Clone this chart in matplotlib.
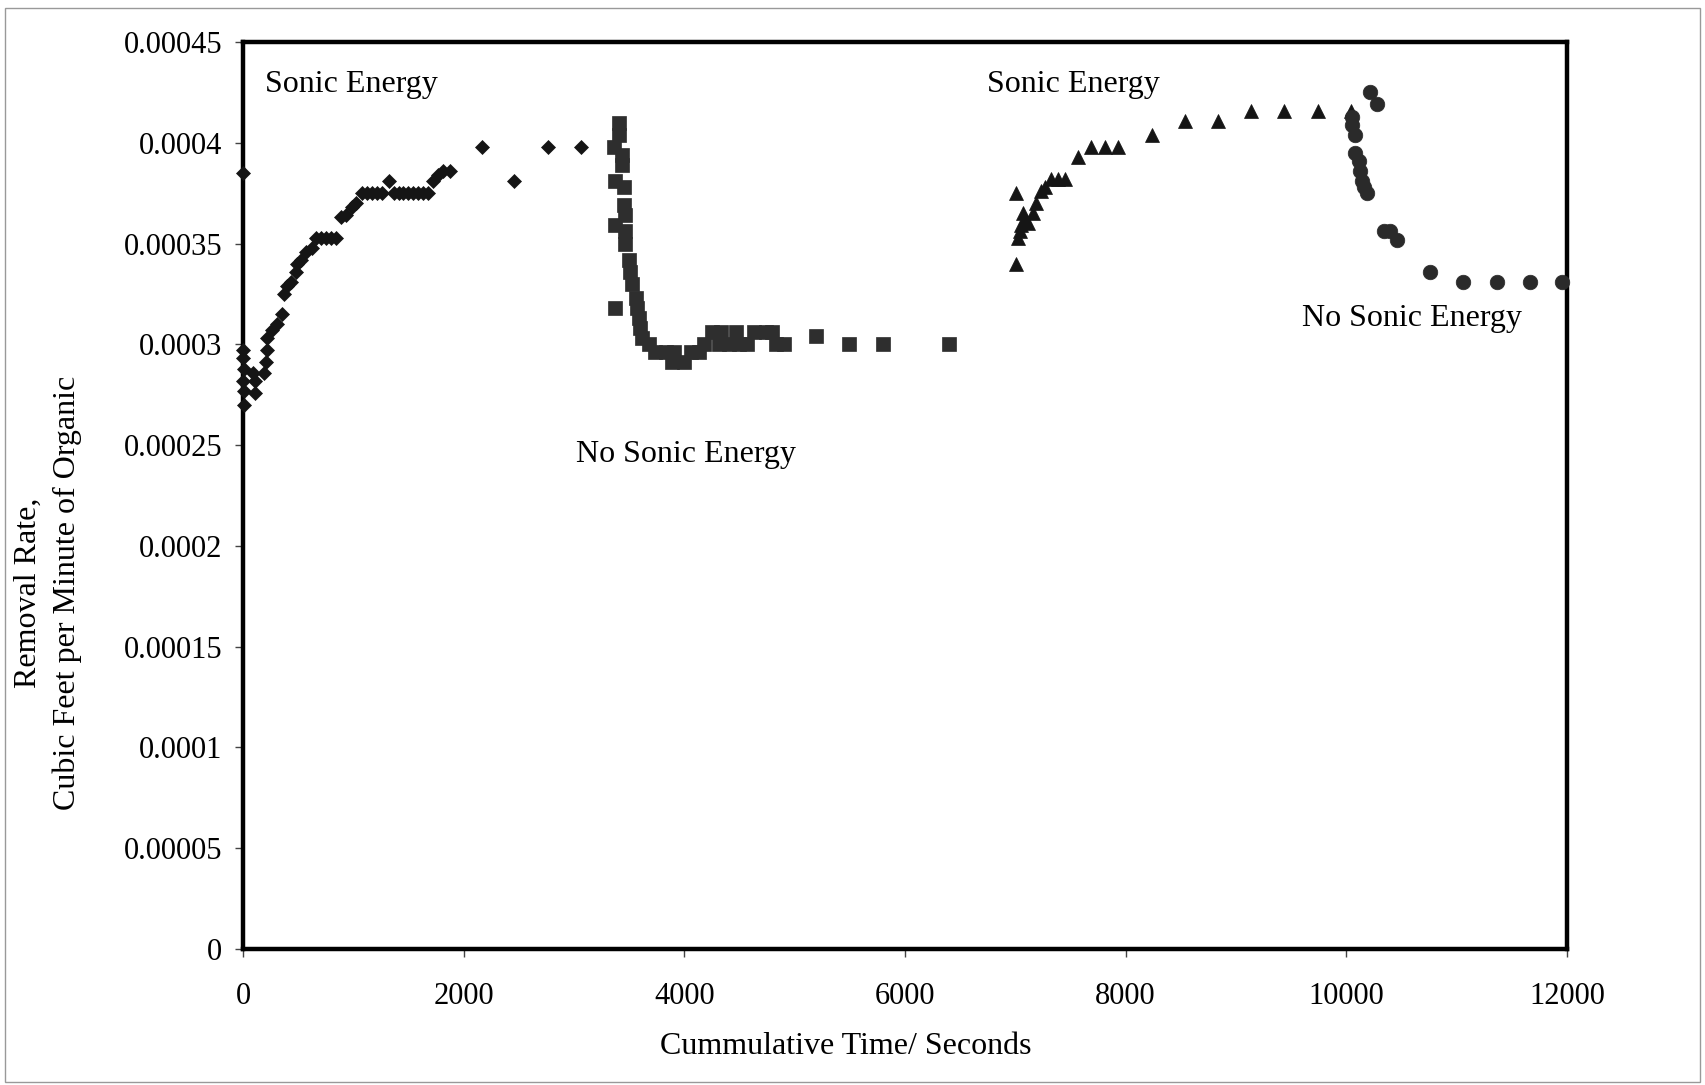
import matplotlib
matplotlib.use("Agg")
import matplotlib.pyplot as plt
from matplotlib.patches import Rectangle

plt.rcParams['font.family'] = ['Liberation Serif', 'DejaVu Serif']

# sonic energy on, first run (diamonds)
sonic1_x = [0, 0, 0, 5, 0, 10, 10, 90, 110, 110, 191, 206, 221, 221, 266, 312, 357,
            372, 403, 433, 479, 494, 524, 570, 630, 666, 711, 757, 802, 847, 893, 938,
            984, 1029, 1075, 1120, 1166, 1211, 1257, 1320, 1365, 1410, 1455, 1500, 1545,
            1590, 1635, 1680, 1726, 1771, 1817, 1877, 2165, 2461, 2764, 3064]
sonic1_y = [0.000385, 0.000297, 0.000293, 0.000288, 0.000282, 0.000277, 0.00027,
            0.000286, 0.000282, 0.000276, 0.000286, 0.000291, 0.000297, 0.000303,
            0.000307, 0.00031, 0.000315, 0.000325, 0.000329, 0.000331, 0.000336,
            0.00034, 0.000342, 0.000346, 0.000348, 0.000353, 0.000353, 0.000353,
            0.000353, 0.000353, 0.000363, 0.000364, 0.000368, 0.00037, 0.000375,
            0.000375, 0.000375, 0.000375, 0.000375, 0.000381, 0.000375, 0.000375,
            0.000375, 0.000375, 0.000375, 0.000375, 0.000375, 0.000375, 0.000381,
            0.000384, 0.000386, 0.000386, 0.000398, 0.000381, 0.000398, 0.000398]

# no sonic energy, first run (squares)
nosonic1_x = [3361, 3370, 3376, 3376, 3406, 3406, 3436, 3436, 3452, 3452, 3467, 3467,
              3467, 3497, 3512, 3527, 3558, 3573, 3588, 3603, 3618, 3679, 3739, 3830,
              3906, 3891, 3997, 4057, 4133, 4178, 4254, 4330, 4315, 4405, 4466, 4496,
              4572, 4632, 4738, 4799, 4829, 4905, 5193, 5495, 5798, 6397]
nosonic1_y = [0.000398, 0.000318, 0.000381, 0.000359, 0.00041, 0.000404, 0.000394,
              0.000389, 0.000378, 0.000369, 0.000364, 0.000356, 0.00035, 0.000342,
              0.000336, 0.00033, 0.000323, 0.000318, 0.000313, 0.000308, 0.000303,
              0.0003, 0.000296, 0.000296, 0.000296, 0.000291, 0.000291, 0.000296,
              0.000296, 0.0003, 0.000306, 0.000306, 0.0003, 0.0003, 0.000306, 0.0003,
              0.0003, 0.000306, 0.000306, 0.000306, 0.0003, 0.0003, 0.000304, 0.0003,
              0.0003, 0.0003]

# sonic energy on, second run (triangles)
sonic2_x = [7009, 7009, 7024, 7039, 7054, 7069, 7084, 7115, 7160, 7191, 7236, 7266,
            7327, 7387, 7448, 7569, 7690, 7811, 7932, 8235, 8538, 8841, 9135, 9437,
            9740, 10043]
sonic2_y = [0.00034, 0.000375, 0.000353, 0.000356, 0.000359, 0.000365, 0.000362,
            0.00036, 0.000365, 0.00037, 0.000376, 0.000378, 0.000382, 0.000382,
            0.000382, 0.000393, 0.000398, 0.000398, 0.000398, 0.000404, 0.000411,
            0.000411, 0.000416, 0.000416, 0.000416, 0.000416]

# no sonic energy, second run (circles)
nosonic2_x = [10052, 10052, 10082, 10082, 10112, 10128, 10143, 10158, 10188, 10218,
              10279, 10340, 10400, 10461, 10763, 11060, 11363, 11666, 11960]
nosonic2_y = [0.000413, 0.000409, 0.000404, 0.000395, 0.000391, 0.000386, 0.000381,
              0.000378, 0.000375, 0.000425, 0.000419, 0.000356, 0.000356, 0.000352,
              0.000336, 0.000331, 0.000331, 0.000331, 0.000331]

y_ticks = [0, 0.00005, 0.0001, 0.00015, 0.0002, 0.00025, 0.0003, 0.00035, 0.0004, 0.00045]
y_tick_labels = ['0', '0.00005', '0.0001', '0.00015', '0.0002', '0.00025', '0.0003',
                 '0.00035', '0.0004', '0.00045']
x_ticks = [0, 2000, 4000, 6000, 8000, 10000, 12000]

fig = plt.figure(figsize=(17.05, 10.85), dpi=100)
ax = fig.add_axes([0.1425, 0.1253, 0.7765, 0.836])

ax.plot(sonic1_x, sonic1_y, 'D', color='#151515', ms=7.3, mew=0.5, clip_on=False, zorder=3)
ax.plot(nosonic1_x, nosonic1_y, 's', color='#2e2e2e', ms=10.5, mew=0.5, clip_on=False, zorder=3)
ax.plot(sonic2_x, sonic2_y, '^', color='#151515', ms=9.5, mew=0.5, clip_on=False, zorder=3)
ax.plot(nosonic2_x, nosonic2_y, 'o', color='#2a2a2a', ms=10.5, mew=0.5, clip_on=False, zorder=3)

ax.set_xlim(0, 12000)
ax.set_ylim(0, 0.00045)
ax.set_xticks(x_ticks)
ax.set_xticklabels([str(t) for t in x_ticks])
ax.set_yticks(y_ticks)
ax.set_yticklabels(y_tick_labels)

for side in ax.spines.values():
    side.set_linewidth(3.2)
    side.set_color('black')
ax.tick_params(axis='both', direction='out', length=6, width=1, labelsize=22, color='#444444')
ax.tick_params(axis='x', pad=18)
ax.tick_params(axis='y', pad=9)

ax.text(200, 0.000429, 'Sonic Energy', fontsize=23, ha='left', va='center')
ax.text(6745, 0.000429, 'Sonic Energy', fontsize=23, ha='left', va='center')
ax.text(3020, 0.0002455, 'No Sonic Energy', fontsize=23, ha='left', va='center')
ax.text(9600, 0.000313, 'No Sonic Energy', fontsize=23, ha='left', va='center')

fig.text(846 / 1705, 1 - 1046 / 1085, 'Cummulative Time/ Seconds', fontsize=23,
         ha='center', va='center')
fig.text(48 / 1705, 1 - 593 / 1085, 'Removal Rate,\nCubic Feet per Minute of Organic',
         fontsize=23, ha='center', va='center', rotation=90, multialignment='center',
         linespacing=1.45)

# thin page border from the scan
fig.patches.append(Rectangle((5 / 1705, 3 / 1085), 1695 / 1705, 1074 / 1085,
                             transform=fig.transFigure, fill=False,
                             edgecolor='#999999', linewidth=1))

fig.savefig('out.png', dpi=100)
